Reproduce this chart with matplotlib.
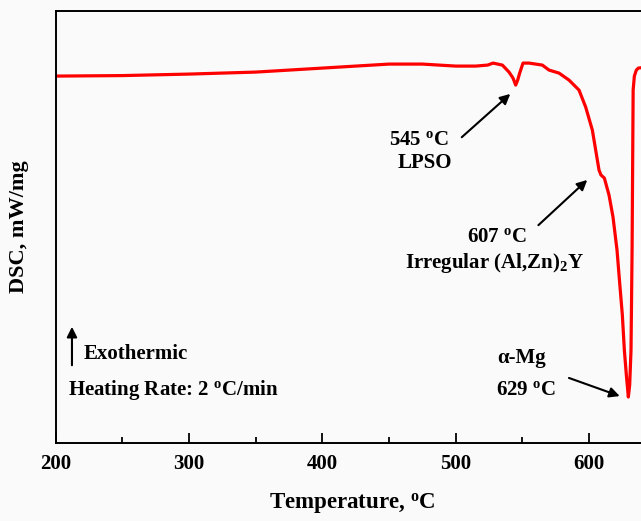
import numpy as np
import matplotlib
matplotlib.use("Agg")
import matplotlib.pyplot as plt
from matplotlib.ticker import MultipleLocator

# DSC trace (temperature in C, signal in arbitrary mW/mg)
temp = [200, 250, 300, 350, 400, 450, 475, 500, 515, 524, 528, 535, 540, 543,
        545, 546.5, 548, 550.5, 555, 565, 570, 577.5, 585, 592.5, 597.5, 602.5,
        605, 607.5, 609, 611.5, 615, 618, 621, 623, 625, 626.5, 628, 629.5,
        630.5, 631.5, 632.3, 632.8, 633.1, 634, 635.5, 637, 640, 645]
dsc = [3.67, 3.675, 3.69, 3.71, 3.75, 3.79, 3.79, 3.77, 3.77, 3.78, 3.80, 3.78,
       3.71, 3.65, 3.58, 3.63, 3.70, 3.80, 3.80, 3.78, 3.73, 3.70, 3.63, 3.53,
       3.36, 3.13, 2.93, 2.73, 2.68, 2.65, 2.48, 2.26, 1.93, 1.60, 1.28, 0.93,
       0.68, 0.46, 0.58, 0.93, 1.93, 2.93, 3.53, 3.67, 3.73, 3.75, 3.755, 3.755]

xticks = [200, 300, 400, 500, 600]

plt.rcParams['font.family'] = ['Liberation Serif', 'DejaVu Serif']
plt.rcParams['font.weight'] = 'bold'
plt.rcParams['mathtext.fontset'] = 'custom'
plt.rcParams['mathtext.rm'] = 'Liberation Serif:bold'
plt.rcParams['mathtext.bf'] = 'Liberation Serif:bold'
plt.rcParams['mathtext.it'] = 'Liberation Serif:bold'

bg = '#fafafa'
fig = plt.figure(figsize=(6.41, 5.21), dpi=100, facecolor=bg)
ax = fig.add_axes([0.0869, 0.1497, 0.9256, 0.829], facecolor=bg)

ax.plot(temp, dsc, color='red', lw=2.3)

ax.set_xlim(200, 645)
ax.set_ylim(0, 4.32)
ax.set_xticks(xticks)
ax.xaxis.set_minor_locator(MultipleLocator(50))
ax.set_yticks([])
ax.tick_params(axis='x', which='major', direction='in', length=7, width=1.3,
               labelsize=15, pad=8)
ax.tick_params(axis='x', which='minor', direction='in', length=4, width=1.3)
ax.tick_params(top=False)
for s in ['left', 'top', 'bottom']:
    ax.spines[s].set_linewidth(1.4)
ax.spines['right'].set_visible(False)

ax.set_xlabel(r'Temperature, $^{\mathbf{o}}$C', fontsize=16.5, fontweight='bold', labelpad=12)
ax.set_ylabel('DSC, mW/mg', fontsize=16, fontweight='bold', labelpad=19)

fs = 15
arrow = dict(arrowstyle='-|>', color='black', lw=1.5, mutation_scale=15)

ax.annotate('', xy=(542.5, 3.51), xytext=(503, 3.04), arrowprops=arrow)
ax.text(472.8, 3.03, r'545 $^{\mathbf{o}}$C', ha='center', va='center', fontsize=fs)
ax.text(476.6, 2.80, 'LPSO', ha='center', va='center', fontsize=fs)

ax.annotate('', xy=(600.2, 2.65), xytext=(560.5, 2.16), arrowprops=arrow)
ax.text(531.3, 2.06, r'607 $^{\mathbf{o}}$C', ha='center', va='center', fontsize=fs)
ax.text(529, 1.80, r'Irregular (Al,Zn)$_{\mathbf{2}}$Y', ha='center', va='center', fontsize=fs)

ax.annotate('', xy=(625, 0.46), xytext=(583, 0.66), arrowprops=arrow)
ax.text(549.5, 0.85, 'α-Mg', ha='center', va='center', fontsize=fs)
ax.text(553, 0.53, r'629 $^{\mathbf{o}}$C', ha='center', va='center', fontsize=fs)

ax.annotate('', xy=(212.2, 1.19), xytext=(212.2, 0.75), arrowprops=arrow)
ax.text(220.7, 0.89, 'Exothermic', ha='left', va='center', fontsize=fs)
ax.text(209.2, 0.53, r'Heating Rate: 2 $^{\mathbf{o}}$C/min', ha='left', va='center', fontsize=fs)

fig.savefig('out.png', dpi=100, facecolor=bg)
